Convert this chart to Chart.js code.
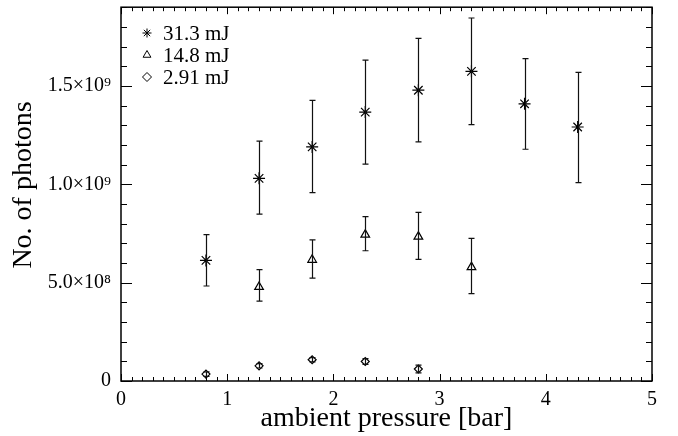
<!DOCTYPE html>
<html>
<head>
<meta charset="utf-8">
<script src="https://cdn.jsdelivr.net/npm/chart.js@4"></script>
<style>
  html, body { margin: 0; padding: 0; background: #fff; }
  #box { width: 678px; height: 436px; }
</style>
</head>
<body>
<div id="box"><canvas id="graph"></canvas></div>
<script>
// data
const labels = ['31.3 mJ', '14.8 mJ', '2.91 mJ'];

const pressure31 = [0.8, 1.3, 1.8, 2.3, 2.8, 3.3, 3.8, 4.3];
const photons31 = [6.13e8, 1.03e9, 1.19e9, 1.367e9, 1.478e9, 1.574e9, 1.409e9, 1.291e9];
const high31 = [7.44e8, 1.219e9, 1.426e9, 1.631e9, 1.742e9, 1.845e9, 1.639e9, 1.569e9];
const low31 = [4.83e8, 8.48e8, 9.58e8, 1.102e9, 1.215e9, 1.303e9, 1.178e9, 1.008e9];

const pressure14 = [1.3, 1.8, 2.3, 2.8, 3.3];
const photons14 = [4.78e8, 6.16e8, 7.44e8, 7.34e8, 5.79e8];
const high14 = [5.66e8, 7.17e8, 8.35e8, 8.57e8, 7.25e8];
const low14 = [4.06e8, 5.23e8, 6.62e8, 6.18e8, 4.44e8];

const pressure2 = [0.8, 1.3, 1.8, 2.3, 2.8];
const photons2 = [3.5e7, 7.7e7, 1.08e8, 9.9e7, 6.1e7];
const high2 = [4.6e7, 8.8e7, 1.19e8, 1.14e8, 8.1e7];
const low2 = [2.4e7, 6.6e7, 9.7e7, 8.4e7, 4.1e7];

const xTicks = [0, 1, 2, 3, 4, 5];
const yTicks = [0, 5e8, 1e9, 1.5e9];
const yTitle = 'No. of photons';

const SERIF = '"Liberation Serif", "DejaVu Serif", serif';

function toPoints(xs, ys) {
  return xs.map((x, i) => ({ x: x, y: ys[i] }));
}

function sup(n) {
  const s = '⁰¹²³⁴⁵⁶⁷⁸⁹';
  return String(n).split('').map(c => s[+c]).join('');
}

function sciLabel(v) {
  if (v === 0) return '0';
  const e = Math.floor(Math.log10(v));
  return (v / Math.pow(10, e)).toFixed(1) + '×10' + sup(e);
}

const errors = [[low31, high31], [low14, high14], [low2, high2]];

//---------------------------------------------
// error bars, frame with ticks, y title and the legend
const extras = {
  id: 'extras',
  afterDatasetsDraw(chart) {
    const ctx = chart.ctx;
    const xs = chart.scales.x, ys = chart.scales.y;
    ctx.save();
    ctx.strokeStyle = '#111';
    ctx.lineWidth = 1.2;
    chart.data.datasets.forEach((ds, d) => {
      const [lo, hi] = errors[d];
      ds.data.forEach((p, i) => {
        const px = Math.round(xs.getPixelForValue(p.x)) + 0.5;
        const y1 = ys.getPixelForValue(lo[i]);
        const y2 = ys.getPixelForValue(hi[i]);
        ctx.beginPath();
        ctx.moveTo(px, y1); ctx.lineTo(px, y2);
        ctx.moveTo(px - 3, y1); ctx.lineTo(px + 3, y1);
        ctx.moveTo(px - 3, y2); ctx.lineTo(px + 3, y2);
        ctx.stroke();
      });
    });
    ctx.restore();
  },
  afterDraw(chart) {
    const ctx = chart.ctx;
    const a = chart.chartArea;
    const xs = chart.scales.x, ys = chart.scales.y;
    ctx.save();
    ctx.strokeStyle = '#000';
    ctx.lineWidth = 1.5;
    ctx.strokeRect(a.left, a.top, a.right - a.left, a.bottom - a.top);
    ctx.lineWidth = 1;
    ctx.beginPath();
    // x ticks, every 0.1 with majors at whole numbers
    for (let k = 0; k <= 50; k++) {
      const px = Math.round(xs.getPixelForValue(k / 10)) + 0.5;
      const len = k % 10 === 0 ? 7 : 4;
      ctx.moveTo(px, a.bottom); ctx.lineTo(px, a.bottom - len);
      ctx.moveTo(px, a.top); ctx.lineTo(px, a.top + len);
    }
    // y ticks, every 1e8 with majors at 5e8
    for (let k = 0; k <= 19; k++) {
      const py = Math.round(ys.getPixelForValue(k * 1e8)) + 0.5;
      const len = k % 5 === 0 ? 11 : 6;
      ctx.moveTo(a.left, py); ctx.lineTo(a.left + len, py);
      ctx.moveTo(a.right, py); ctx.lineTo(a.right - len, py);
    }
    ctx.stroke();

    // y title, a little above the middle like the original
    ctx.save();
    ctx.translate(24, 185);
    ctx.rotate(-Math.PI / 2);
    ctx.font = '28px ' + SERIF;
    ctx.fillStyle = '#000';
    ctx.textAlign = 'center';
    ctx.textBaseline = 'middle';
    ctx.fillText(yTitle, 0, 0);
    ctx.restore();

    // legend inside the plot
    ctx.font = '21px ' + SERIF;
    ctx.textBaseline = 'middle';
    chart.data.datasets.forEach((ds, d) => {
      const ly = 33 + d * 22;
      ctx.fillStyle = 'rgba(0,0,0,0)';
      ctx.strokeStyle = '#000';
      Chart.helpers.drawPoint(ctx, {
        pointStyle: ds.pointStyle, radius: 4.5, borderWidth: 1,
        rotation: 0
      }, 147, ly);
      ctx.fillStyle = '#000';
      ctx.fillText(ds.label, 163, ly + 1);
    });
    ctx.restore();
  }
};

const datasets = [
  { label: labels[0], data: toPoints(pressure31, photons31), pointStyle: 'star', pointRadius: 6 },
  { label: labels[1], data: toPoints(pressure14, photons14), pointStyle: 'triangle', pointRadius: 5 },
  { label: labels[2], data: toPoints(pressure2, photons2), pointStyle: 'rectRot', pointRadius: 4 }
];
datasets.forEach(ds => {
  ds.borderColor = '#000';
  ds.backgroundColor = 'rgba(0,0,0,0)';
  ds.pointBorderWidth = 1.2;
  ds.showLine = false;
});

const cfg = {
  type: 'scatter',
  data: { datasets: datasets },
  options: {
    responsive: true,
    maintainAspectRatio: false,
    animation: false,
    layout: { padding: { top: 5, right: 26, left: 0, bottom: 0 } },
    plugins: {
      legend: { display: false },
      tooltip: { enabled: false }
    },
    scales: {
      x: {
        type: 'linear', min: 0, max: 5,
        afterFit: s => { s.height = 55; s.paddingLeft = 0; s.paddingRight = 0; },
        afterBuildTicks: s => { s.ticks = xTicks.map(v => ({ value: v })); },
        grid: { display: false, drawTicks: false },
        border: { display: false },
        ticks: {
          color: '#000', padding: 7, maxRotation: 0,
          font: { family: SERIF, size: 20 },
          callback: v => String(v)
        },
        title: {
          display: true, text: 'ambient pressure [bar]', color: '#000',
          font: { family: SERIF, size: 28 }, padding: { top: 0, bottom: 1 }
        }
      },
      y: {
        type: 'linear', min: 0, max: 1.9e9,
        afterFit: s => { s.width = 121; s.paddingTop = 0; s.paddingBottom = 0; },
        afterBuildTicks: s => { s.ticks = yTicks.map(v => ({ value: v })); },
        grid: { display: false, drawTicks: false },
        border: { display: false },
        ticks: {
          color: '#000', padding: 10,
          font: { family: SERIF, size: 20 },
          callback: v => sciLabel(v)
        },
        title: { display: false }
      }
    }
  },
  plugins: [extras]
};

new Chart(document.getElementById('graph'), cfg);
</script>
</body>
</html>
